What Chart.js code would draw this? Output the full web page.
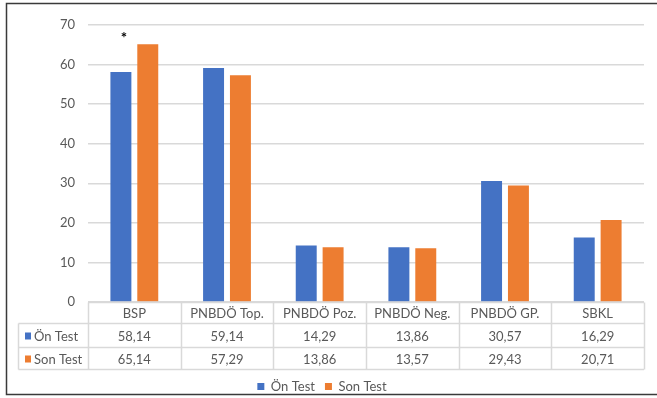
<!DOCTYPE html>
<html>
  <head>
    <meta http-equiv="Content-Type" content="text/html;charset=utf-8"/>
    <script src="https://cdn.jsdelivr.net/npm/chart.js@4/dist/chart.umd.min.js"></script>
    <style type="text/css">
    html, body { margin: 0; padding: 0; background: #fff; }
    #chart-container { width: 657px; height: 398px; position: relative; }
    </style>
</head>
<body>
    <div id="chart-container"><canvas id="c" width="657" height="398"></canvas></div>
    <script type="text/javascript">
    // data
    var categories = ["BSP", "PNBDÖ Top.", "PNBDÖ Poz.", "PNBDÖ Neg.", "PNBDÖ GP.", "SBKL"];
    var onTest  = [58.14, 59.14, 14.29, 13.86, 30.57, 16.29];
    var sonTest = [65.14, 57.29, 13.86, 13.57, 29.43, 20.71];
    var seriesNames = ["Ön Test", "Son Test"];
    var colors = ["#4472C4", "#ED7D31"];
    var starCategory = 0;   // the "*" mark over BSP

    var textColor = "#595959";
    var lineColor = "#d9d9d9";
    var fontFamily = "Lato, 'Liberation Sans', sans-serif";

    function fmt(v) { return v.toFixed(2).replace(".", ","); }

    /* draws the frame, the data table under the axis and the star */
    var tablePlugin = {
      id: "tablePlugin",
      beforeDraw: function(chart) {
        var ctx = chart.ctx;
        ctx.save();
        ctx.fillStyle = "#fff";
        ctx.fillRect(0, 0, chart.width, chart.height);
        ctx.strokeStyle = "#3a3a3a";
        ctx.lineWidth = 1.5;
        ctx.beginPath();
        ctx.moveTo(chart.width, 3.5);
        ctx.lineTo(6.5, 3.5);
        ctx.lineTo(6.5, 394.5);
        ctx.lineTo(chart.width, 394.5);
        ctx.stroke();
        ctx.restore();
      },
      afterDraw: function(chart) {
        var ctx = chart.ctx;
        var xs = chart.scales.x;
        var area = chart.chartArea;
        var catW = (area.right - area.left) / categories.length;
        var top = Math.round(area.bottom) + 0.5;
        var rowH = [21, 24, 22];
        var y1 = top + rowH[0], y2 = y1 + rowH[1], y3 = y2 + rowH[2];
        var leftX = 18.5;

        ctx.save();
        ctx.strokeStyle = lineColor;
        ctx.lineWidth = 1.5;
        ctx.beginPath();
        // horizontal lines
        ctx.moveTo(area.left, top); ctx.lineTo(area.right, top);
        [y1, y2, y3].forEach(function(y) { ctx.moveTo(leftX, y); ctx.lineTo(area.right, y); });
        // vertical lines
        ctx.moveTo(leftX, y1); ctx.lineTo(leftX, y3);
        for (var i = 0; i <= categories.length; i++) {
          var x = Math.round(area.left + i * catW) + 0.5;
          ctx.moveTo(x, top); ctx.lineTo(x, y3);
        }
        ctx.stroke();

        ctx.font = "13px " + fontFamily;
        ctx.fillStyle = textColor;
        ctx.textBaseline = "middle";
        var rows = [onTest, sonTest];
        var rowMid = [(y1 + y2) / 2, (y2 + y3) / 2];
        rows.forEach(function(vals, r) {
          ctx.textAlign = "center";
          ctx.fillStyle = textColor;
          vals.forEach(function(v, i) {
            ctx.fillText(fmt(v), xs.getPixelForValue(i), rowMid[r] + 1);
          });
          // series label cell
          ctx.fillStyle = colors[r];
          ctx.fillRect(25, rowMid[r] - 3, 6, 7);
          ctx.fillStyle = textColor;
          ctx.textAlign = "left";
          ctx.fillText(seriesNames[r], 34, rowMid[r] + 1);
        });

        // significance star
        var bar = chart.getDatasetMeta(0).data[starCategory];
        ctx.fillStyle = "#000";
        ctx.font = "bold 15px " + fontFamily;
        ctx.textAlign = "center";
        ctx.fillText("*", bar.x + 3, chart.scales.y.getPixelForValue(66.6));
        ctx.restore();
      }
    };

    new Chart(document.getElementById("c"), {
      type: "bar",
      data: {
        labels: categories,
        datasets: [
          { label: seriesNames[0], data: onTest, backgroundColor: colors[0] },
          { label: seriesNames[1], data: sonTest, backgroundColor: colors[1] }
        ]
      },
      options: {
        responsive: false,
        animation: false,
        devicePixelRatio: 1,
        layout: { padding: { left: 0, right: 13, top: 25, bottom: -5 } },
        datasets: { bar: { categoryPercentage: 0.58, barPercentage: 0.78 } },
        scales: {
          x: {
            grid: { display: false, drawTicks: false },
            border: { display: false },
            ticks: { color: textColor, font: { family: fontFamily, size: 13 }, padding: 4, maxRotation: 0, autoSkip: false },
            afterFit: function(s) { s.height = 68; }
          },
          y: {
            min: 0, max: 70,
            ticks: { stepSize: 10, color: textColor, font: { family: fontFamily, size: 13 }, padding: 13 },
            grid: { color: lineColor, lineWidth: 1.5, drawTicks: false },
            border: { display: false },
            afterFit: function(s) { s.width = 88; }
          }
        },
        plugins: {
          legend: {
            position: "bottom",
            labels: { boxWidth: 7, boxHeight: 7, color: textColor, font: { family: fontFamily, size: 13 }, padding: 10 }
          },
          tooltip: { enabled: false }
        }
      },
      plugins: [tablePlugin]
    });
    </script>
</body>
</html>
